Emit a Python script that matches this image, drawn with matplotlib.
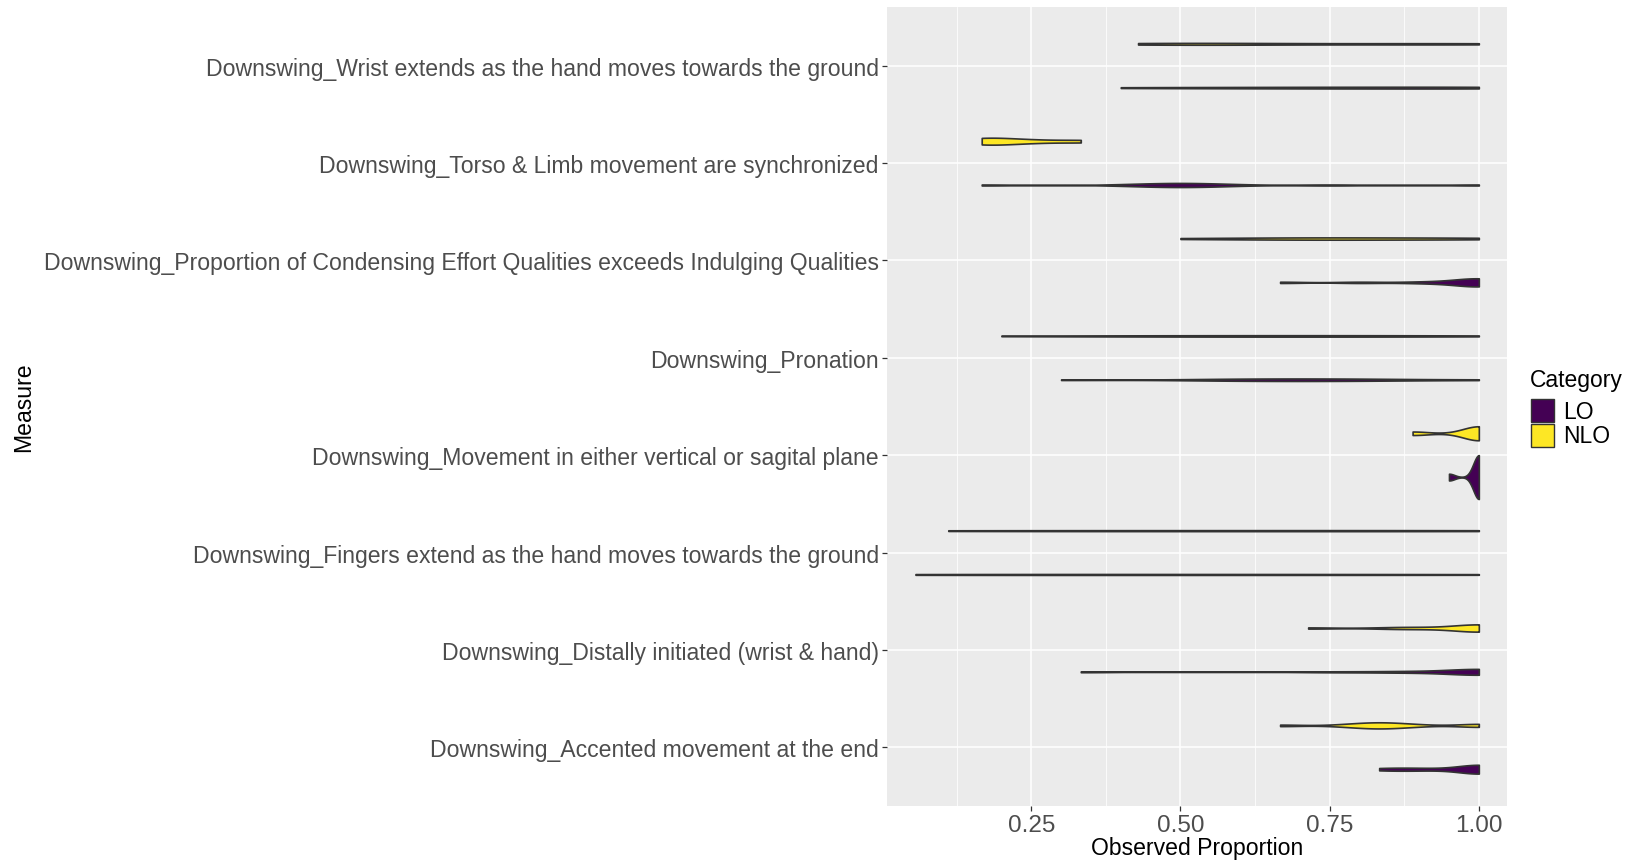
import numpy as np
import matplotlib
matplotlib.use("Agg")
import matplotlib.pyplot as plt
from matplotlib.patches import Rectangle

plt.rcParams['font.family'] = ['Liberation Sans', 'DejaVu Sans']

# measures listed bottom -> top
measures = [
    "Downswing_Accented movement at the end",
    "Downswing_Distally initiated (wrist & hand)",
    "Downswing_Fingers extend as the hand moves towards the ground",
    "Downswing_Movement in either vertical or sagital plane",
    "Downswing_Pronation",
    "Downswing_Proportion of Condensing Effort Qualities exceeds Indulging Qualities",
    "Downswing_Torso & Limb movement are synchronized",
    "Downswing_Wrist extends as the hand moves towards the ground",
]

# observed proportions per participant, same order as measures
lo_obs = [
    [0.833, 0.857, 0.889, 0.917, 1, 1, 1, 1, 1, 1, 1, 1],
    [0.333, 0.75, 0.85, 0.9, 1, 1, 1, 1, 1, 1, 1],
    [0.056, 0.25, 0.5, 0.75, 1.0],
    [0.95, 0.95] + [1.0] * 13,
    [0.3, 0.55, 0.6, 0.65, 0.7, 0.75, 0.8, 0.85, 1.0],
    [0.667, 0.8, 0.9, 0.95, 1, 1, 1, 1, 1, 1],
    [0.167, 0.42, 0.46, 0.5, 0.5, 0.54, 0.58, 0.75, 1.0],
    [0.4, 0.5, 0.6, 0.7, 0.75, 0.8, 0.9, 1, 1, 1],
]
nlo_obs = [
    [0.667, 0.78, 0.81, 0.833, 0.833, 0.86, 0.89, 1.0, 1.0],
    [0.714, 0.857, 0.9, 1, 1, 1, 1, 1, 1],
    [0.111, 0.3, 0.5, 0.7, 0.9, 1.0],
    [0.889, 0.889] + [1.0] * 8,
    [0.2, 0.4, 0.5, 0.6, 0.7, 0.8, 0.9, 1.0],
    [0.5, 0.6, 0.667, 0.7, 0.75, 0.8, 0.857, 0.9, 1.0, 1.0],
    [0.167, 0.167, 0.2, 0.25, 0.333],
    [0.429, 0.45, 0.5, 0.55, 0.6, 0.667, 0.8, 0.9, 1, 1],
]
categories = ["LO", "NLO"]
colors = {"LO": "#440154", "NLO": "#FDE725"}
x_breaks = [0.25, 0.50, 0.75, 1.00]


def bw_nrd0(x):
    hi = np.std(x, ddof=1)
    q75, q25 = np.percentile(x, [75, 25])
    lo = min(hi, (q75 - q25) / 1.34)
    if lo == 0:
        lo = hi
    return 0.9 * lo * len(x) ** -0.2


def violin_density(x, n=512):
    x = np.asarray(x, dtype=float)
    grid = np.linspace(x.min(), x.max(), n)
    bw = bw_nrd0(x)
    z = (grid[:, None] - x[None, :]) / bw
    dens = np.exp(-0.5 * z ** 2).sum(axis=1) / (len(x) * bw * np.sqrt(2 * np.pi))
    return grid, dens


W, H = 1640, 862
fig = plt.figure(figsize=(W / 100, H / 100), dpi=100)
ax = fig.add_axes([887.3 / W, 1 - 806.7 / H, (1507 - 887.3) / W, (806.7 - 8.3) / H])
ax.set_facecolor("#EBEBEB")
for s in ax.spines.values():
    s.set_visible(False)

dens_all = {}
for cat, obs in zip(categories, [lo_obs, nlo_obs]):
    for i, vals in enumerate(obs):
        dens_all[(cat, i)] = violin_density(vals)
gmax = max(d.max() for _, d in dens_all.values())

# violins dodged within each measure, scaled by the common max density
width = 0.45
offsets = {"LO": -0.225, "NLO": 0.225}
for (cat, i), (grid, dens) in dens_all.items():
    y = i + 1 + offsets[cat]
    hw = dens / gmax * width / 2
    ax.fill_between(grid, y - hw, y + hw, facecolor=colors[cat],
                    edgecolor="#333333", linewidth=1.2, zorder=3)

allv = np.concatenate([np.asarray(v, float) for v in lo_obs + nlo_obs])
rng = allv.max() - allv.min()
ax.set_xlim(allv.min() - 0.05 * rng, allv.max() + 0.05 * rng)
ax.set_ylim(0.4, len(measures) + 0.6)

ax.set_xticks(x_breaks)
ax.set_xticklabels([f"{b:.2f}" for b in x_breaks])
ax.set_xticks([0.125, 0.375, 0.625, 0.875], minor=True)
ax.set_yticks(np.arange(1, len(measures) + 1))
ax.set_yticklabels(measures)
ax.grid(which="major", color="white", linewidth=1.1, zorder=0)
ax.grid(which="minor", axis="x", color="white", linewidth=0.55, zorder=0)
ax.set_axisbelow(True)
ax.tick_params(which="major", length=3.6, width=0.9, color="#333333",
               labelcolor="#4D4D4D", labelsize=16.6, pad=2.5)
ax.tick_params(axis="x", labelsize=17.5)
ax.tick_params(which="minor", length=0)

ax.set_xlabel("Observed Proportion", fontsize=16.6, color="black")
ax.xaxis.set_label_coords(0.5, -(849 - 806.7) / (806.7 - 8.3), transform=ax.transAxes)
ax.xaxis.label.set_va("center")
ax.set_ylabel("Measure", fontsize=16.6, color="black")
ax.yaxis.set_label_coords(-(887.3 - 24) / (1507 - 887.3), 0.5, transform=ax.transAxes)
ax.yaxis.label.set_va("center")

# legend
fig.text(1530 / W, 1 - 387 / H, "Category", fontsize=16.5, va="baseline", ha="left")
for j, cat in enumerate(categories):
    top = 400 + j * 24.5
    fig.add_artist(Rectangle((1531 / W, 1 - (top + 23) / H), 23 / W, 23 / H,
                             facecolor=colors[cat], edgecolor="#333333",
                             linewidth=1.0, transform=fig.transFigure))
    fig.text(1563 / W, 1 - (top + 12.5) / H, cat, fontsize=16.5, va="center", ha="left")

fig.savefig("out.png", dpi=100)
